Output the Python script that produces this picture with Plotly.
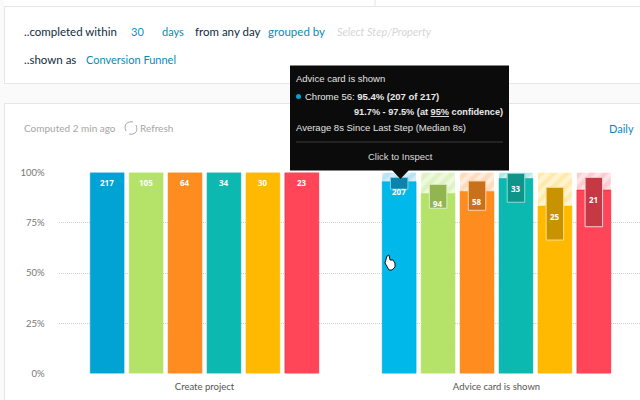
import plotly.graph_objects as go

steps = ['Create project', 'Advice card is shown']
browsers = ['Chrome 56', 'Safari', 'Firefox', 'Edge', 'Opera', 'Other']
counts_first = [217, 105, 64, 34, 30, 23]
counts_second = [207, 94, 58, 33, 25, 21]
pct_first = [100, 100, 100, 100, 100, 100]
pct_second = [95.4, 89.5, 90.6, 97.0, 83.3, 91.3]
ci_low = [91.7, 82.2, 81.2, 85.2, 66.4, 73.0]
ci_high = [97.5, 94.1, 95.8, 99.6, 92.6, 97.6]
y_ticks = [0, 25, 50, 75, 100]
y_labels = ['0%', '25%', '50%', '75%', '100%']

first_colors = ['#00a3d3', '#b5e36a', '#ff8c1f', '#0cb9b0', '#ffb900', '#ff4557']
second_colors = ['#00b9ea', '#b5e36a', '#ff8c1f', '#0cb9b0', '#ffb900', '#ff4557']
edge_colors = ['#00a3d3', '#b5e36a', '#f58318', '#0cb0a8', '#ffb900', '#f5102c']
box_colors = ['#0a84ad', '#93b551', '#c8711a', '#0e9488', '#c89200', '#c73845']
box_edges = ['#7fd0ea', '#dcefbc', '#ffd2a8', '#8fdcd6', '#ffdf85', '#ffd0d6']
hatch_bg = ['#d3eef8', '#eef8dd', '#ffecdc', '#d3f0ee', '#fff4d2', '#ffe3e6']
hatch_fg = ['#9bdaf0', '#d0ebaa', '#ffc99a', '#98deda', '#ffdd85', '#ffb3bc']

W, H = 640, 400
PLOT_L, PLOT_R, PLOT_T, PLOT_B = 58.5, 640, 172.5, 373.5
CAT_W = 292.0  # pixels per category
GROUP_GAP = 0.2
BAR_GAP = 0.13


def px(x):
    return x / W


def py(y):
    return 1 - y / H


def label(x, y, text, color='#1c3a52', size=10.5, anchor='left', font='Lato'):
    # annotations carry a small pad around the text
    x = x - 2 if anchor == 'left' else x + 2 if anchor == 'right' else x
    return dict(x=px(x), y=py(y), xref='paper', yref='paper', text=text, showarrow=False,
                xanchor=anchor, yanchor='middle', font=dict(family=font, size=size, color=color))


def rect(x0, y0, x1, y1, fill, line=None, layer='below'):
    return dict(type='rect', xref='paper', yref='paper', x0=px(x0), x1=px(x1), y0=py(y0), y1=py(y1),
                fillcolor=fill, line=dict(color=line or fill, width=1 if line else 0), layer=layer)


def rule(x0, y0, x1, y1, color='#e6e6e6', layer='below'):
    return dict(type='line', xref='paper', yref='paper', x0=px(x0), x1=px(x1), y0=py(y0), y1=py(y1),
                line=dict(color=color, width=1), layer=layer)


def path(points, fill, line=None, layer='above', width=1):
    d = 'M' + ' L'.join(f'{px(x):.5f},{py(y):.5f}' for x, y in points) + ' Z'
    return dict(type='path', xref='paper', yref='paper', path=d, fillcolor=fill,
                line=dict(color=line or fill, width=width if line else 0), layer=layer)


fig = go.Figure()

for i, name in enumerate(browsers):
    # hatched part up to the previous step
    fig.add_trace(go.Bar(x=[steps[1]], y=[pct_first[i]], offsetgroup=str(i), name=name, showlegend=False,
                         marker=dict(color=hatch_bg[i], line=dict(width=0),
                                     pattern=dict(shape='/', size=9, solidity=0.5,
                                                  fgcolor=hatch_fg[i], bgcolor=hatch_bg[i]))))
    fig.add_trace(go.Bar(x=steps, y=[pct_first[i], pct_second[i]], offsetgroup=str(i), name=name, showlegend=False,
                         marker=dict(color=[first_colors[i], second_colors[i]],
                                     line=dict(color=edge_colors[i], width=0.5))))
    # confidence interval box
    fig.add_trace(go.Bar(x=[steps[1]], y=[ci_high[i] - ci_low[i]], base=[ci_low[i]], width=[0.06],
                         offsetgroup=str(i), name=name, showlegend=False,
                         marker=dict(color=box_colors[i], line=dict(color=box_edges[i], width=1))))

# bar labels sit a fixed distance under the top of each bar
slot = (1 - GROUP_GAP) / len(browsers)
annotations = []
for i in range(len(browsers)):
    off = (i - (len(browsers) - 1) / 2) * slot
    for c, (val, cnt) in enumerate([(pct_first[i], counts_first[i]), (pct_second[i], counts_second[i])]):
        annotations.append(dict(x=c + off, y=val, xref='x', yref='y', text=f'<b>{cnt}</b>', showarrow=False,
                                yshift=-10, font=dict(family='Noto Sans', size=8, color='white')))

annotations += [
    label(24, 31, '..completed within', size=11.5, color='#0f2a40'),
    label(131, 31, '30', size=11, color='#0b93c1'),
    label(162, 31, 'days', size=11, color='#0b8ab5'),
    label(195, 31, 'from any day', size=11.5, color='#0f2a40'),
    label(268, 31, 'grouped by', size=11.5, color='#0b8ab5'),
    label(337, 31, '<i>Select Step/Property</i>', size=11, color='#d4d6d8'),
    label(24, 59.5, '..shown as', size=11.5, color='#0f2a40'),
    label(86, 59.5, 'Conversion Funnel', size=11, color='#0b8ab5'),
    label(24, 128, 'Computed 2 min ago', size=10, color='#a6a6a6'),
    label(140, 128, 'Refresh', size=10, color='#a6a6a6'),
    label(634, 128, 'Daily', size=11, color='#0b8ab5', anchor='right'),
    label(296, 78.5, 'Advice card is shown', size=9.5, color='#e2e2e2', font='Liberation Sans'),
    label(305, 96.5, 'Chrome 56: <b>95.4% (207 of 217)</b>', size=9.5, color='#e8e8e8', font='Liberation Sans'),
    label(503, 112, '<b>91.7% - 97.5% (at <u>95%</u> confidence)</b>', size=9.2, color='#e8e8e8',
          anchor='right', font='Liberation Sans'),
    label(296, 127, 'Average 8s Since Last Step (Median 8s)', size=9.5, color='#e2e2e2', font='Liberation Sans'),
    label(400, 156, 'Click to Inspect', size=9.5, color='#dddddd', anchor='center', font='Liberation Sans'),
]

shapes = [
    rect(0, 84, 640, 103, '#fafafa'),
    rect(0, 0, 4, 400, '#fafafa'),
    rule(4, 6.5, 640, 6.5),
    rule(375, 0, 375, 6.5),
    rule(4, 83.5, 640, 83.5),
    rule(4, 103.5, 640, 103.5),
    rule(4.5, 6.5, 4.5, 83.5),
    rule(4.5, 103.5, 4.5, 400),
    # tooltip
    rect(290, 65.5, 509, 170.5, '#0b0b0b', layer='above'),
    path([(392, 170), (409, 170), (400.5, 179)], '#0b0b0b'),
    rule(296, 142, 503, 142, color='#3c3c3c', layer='above'),
    dict(type='circle', xref='paper', yref='paper', x0=px(296), x1=px(301), y0=py(99), y1=py(94),
         fillcolor='#00a3d3', line=dict(width=0), layer='above'),
    # refresh icon
    dict(type='path', xref='paper', yref='paper', layer='above', line=dict(color='#a6a6a6', width=1),
         path=f'M{px(126)},{py(131)} C{px(123)},{py(124)} {px(128)},{py(121)} {px(133)},{py(122)} '
              f'M{px(136)},{py(125)} C{px(139)},{py(132)} {px(134)},{py(135)} {px(129)},{py(134)}'),
    # pointer hand
    path([(387, 256), (389, 255), (390, 260), (393, 260), (395, 263), (395, 267), (392, 270), (389, 270), (385, 263)],
         '#ffffff', line='#111111'),
]

fig.update_layout(
    width=W, height=H, autosize=False,
    margin=dict(l=0, r=0, t=0, b=0),
    paper_bgcolor='white', plot_bgcolor='rgba(0,0,0,0)',
    barmode='group', bargap=GROUP_GAP, bargroupgap=BAR_GAP,
    showlegend=False,
    shapes=shapes,
    annotations=annotations,
    xaxis=dict(domain=[px(PLOT_L), 1], type='category', categoryorder='array', categoryarray=steps,
               automargin=False,
               range=[-0.5, -0.5 + (PLOT_R - PLOT_L) / CAT_W], showgrid=False, zeroline=False, showline=False,
               ticks='outside', ticklen=4, tickcolor='rgba(0,0,0,0)',
               tickfont=dict(family='Lato', size=9.5, color='#555555')),
    yaxis=dict(domain=[py(PLOT_B), py(PLOT_T)], range=[0, 100], tickvals=y_ticks, ticktext=y_labels,
               automargin=False,
               showgrid=True, gridcolor='#cfcfcf', griddash='1px,1px', gridwidth=1, zeroline=False, showline=False,
               ticks='outside', ticklen=11, tickcolor='rgba(0,0,0,0)',
               tickfont=dict(family='Lato', size=9.5, color='#777777')),
)

fig.write_html("out.html", post_script="document.body.style.margin='0';", config={'displayModeBar': False})
